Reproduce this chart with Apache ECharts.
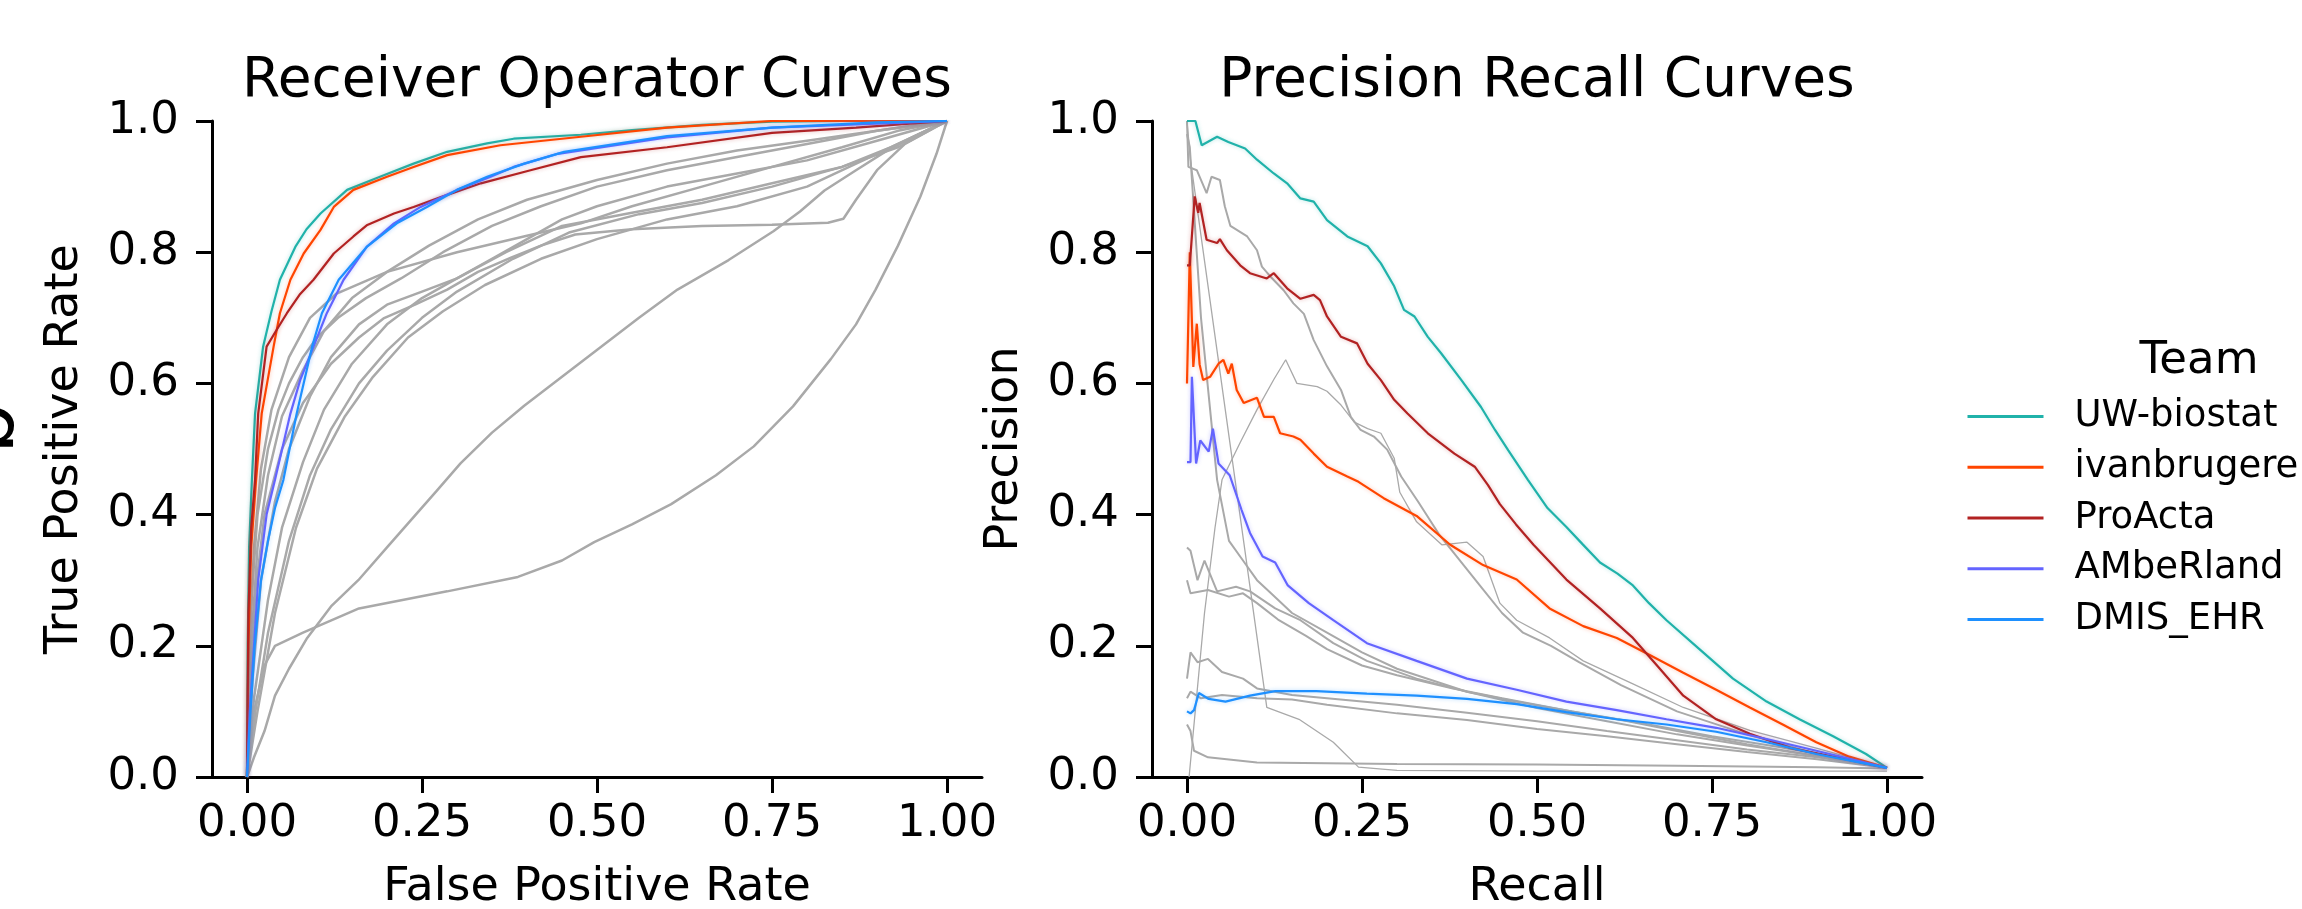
<!DOCTYPE html>
<html>
<head>
<meta charset="utf-8">
<script src="https://cdn.jsdelivr.net/npm/echarts@6/dist/echarts.min.js"></script>
<style>
html,body{margin:0;padding:0;background:#fff;}
#chart{width:2302px;height:909px;}
</style>
</head>
<body>
<div id="chart"></div>
<script>
// ---------------- DATA ----------------
const teams = ['UW-biostat', 'ivanbrugere', 'ProActa', 'AMbeRland', 'DMIS_EHR'];
const teamColors = ['#20b2aa', '#ff4500', '#b22222', '#6464ff', '#1e90ff'];
const xTicks = [0, 0.25, 0.5, 0.75, 1];
const yTicks = [0, 0.2, 0.4, 0.6, 0.8, 1.0];

// ROC curves [FPR, TPR]
const rocUW = [[0,0],[0.001,0.2],[0.003,0.35],[0.007,0.453],[0.0115,0.554],[0.023,0.656],[0.035,0.71],[0.047,0.758],[0.069,0.808],[0.085,0.835],[0.105,0.859],[0.143,0.895],[0.19,0.915],[0.238,0.935],[0.286,0.953],[0.343,0.966],[0.381,0.973],[0.477,0.979],[0.55,0.986],[0.65,0.994],[0.75,0.999],[0.85,1],[1,1]];
const rocIvan = [[0,0],[0.002,0.2],[0.006,0.35],[0.013,0.453],[0.021,0.554],[0.038,0.656],[0.047,0.707],[0.062,0.758],[0.081,0.798],[0.105,0.834],[0.124,0.869],[0.152,0.895],[0.2,0.915],[0.238,0.93],[0.286,0.948],[0.362,0.963],[0.477,0.976],[0.6,0.99],[0.75,1],[1,1]];
const rocProActa = [[0,0],[0.002,0.25],[0.006,0.38],[0.0115,0.453],[0.016,0.554],[0.028,0.656],[0.042,0.681],[0.057,0.707],[0.075,0.735],[0.095,0.758],[0.124,0.798],[0.152,0.824],[0.171,0.841],[0.21,0.859],[0.238,0.869],[0.277,0.884],[0.334,0.905],[0.405,0.925],[0.477,0.945],[0.6,0.96],[0.75,0.982],[0.87,0.99],[1,1]];
const rocAMbeRland = [[0,0],[0.004,0.1],[0.01,0.2],[0.016,0.3],[0.028,0.4],[0.04,0.453],[0.062,0.554],[0.076,0.605],[0.095,0.656],[0.114,0.707],[0.138,0.758],[0.171,0.808],[0.21,0.844],[0.248,0.869],[0.3,0.895],[0.348,0.915],[0.381,0.93],[0.444,0.95],[0.6,0.975],[0.75,0.99],[1,1]];
const rocDMIS = [[0,0],[0.005,0.1],[0.011,0.2],[0.02,0.3],[0.03,0.36],[0.04,0.41],[0.052,0.453],[0.071,0.554],[0.093,0.656],[0.107,0.707],[0.131,0.758],[0.171,0.808],[0.214,0.844],[0.257,0.869],[0.3,0.895],[0.343,0.915],[0.396,0.935],[0.453,0.953],[0.6,0.977],[0.75,0.99],[0.9,0.998],[1,1]];

const rocGray1 = [[0,0],[0.01,0.1],[0.025,0.17],[0.04,0.2],[0.08,0.22],[0.16,0.257],[0.286,0.283],[0.387,0.305],[0.45,0.33],[0.496,0.358],[0.55,0.385],[0.606,0.416],[0.67,0.46],[0.724,0.504],[0.78,0.565],[0.834,0.637],[0.87,0.69],[0.898,0.743],[0.93,0.81],[0.962,0.885],[0.985,0.95],[1,1]];
const rocGray2 = [[0,0],[0.01,0.03],[0.025,0.07],[0.04,0.124],[0.06,0.165],[0.086,0.212],[0.12,0.26],[0.159,0.3],[0.2,0.35],[0.232,0.389],[0.27,0.435],[0.305,0.478],[0.35,0.525],[0.396,0.566],[0.45,0.61],[0.505,0.655],[0.56,0.7],[0.615,0.743],[0.688,0.788],[0.752,0.832],[0.79,0.862],[0.825,0.894],[0.87,0.925],[0.916,0.956],[0.96,0.98],[1,1]];
const rocGray3 = [[0,0],[0.005,0.15],[0.012,0.28],[0.025,0.4],[0.05,0.5],[0.08,0.57],[0.12,0.63],[0.16,0.67],[0.195,0.699],[0.24,0.72],[0.286,0.743],[0.33,0.77],[0.378,0.792],[0.42,0.81],[0.469,0.827],[0.55,0.835],[0.65,0.84],[0.75,0.842],[0.83,0.845],[0.852,0.851],[0.87,0.88],[0.9,0.925],[0.94,0.965],[1,1]];
const rocGray4 = [[0,0],[0.004,0.2],[0.01,0.35],[0.02,0.47],[0.035,0.56],[0.06,0.64],[0.09,0.7],[0.128,0.737],[0.2,0.77],[0.3,0.8],[0.4,0.825],[0.477,0.844],[0.55,0.87],[0.65,0.9],[0.75,0.93],[0.85,0.96],[0.93,0.985],[1,1]];
const rocGray5 = [[0,0],[0.005,0.25],[0.015,0.4],[0.03,0.5],[0.045,0.56],[0.06,0.6],[0.08,0.64],[0.1,0.67],[0.13,0.7],[0.17,0.73],[0.22,0.76],[0.28,0.8],[0.35,0.84],[0.42,0.87],[0.5,0.9],[0.6,0.925],[0.7,0.945],[0.8,0.965],[0.9,0.985],[1,1]];
const rocGray6 = [[0,0],[0.008,0.15],[0.02,0.3],[0.04,0.42],[0.06,0.5],[0.09,0.58],[0.12,0.64],[0.16,0.69],[0.2,0.72],[0.25,0.74],[0.3,0.76],[0.35,0.79],[0.4,0.82],[0.45,0.85],[0.5,0.87],[0.6,0.9],[0.7,0.92],[0.8,0.94],[0.9,0.97],[1,1]];
const rocGray7 = [[0,0],[0.01,0.12],[0.03,0.27],[0.05,0.38],[0.08,0.48],[0.11,0.56],[0.15,0.63],[0.2,0.69],[0.25,0.73],[0.3,0.76],[0.37,0.8],[0.45,0.84],[0.55,0.86],[0.65,0.88],[0.75,0.905],[0.85,0.93],[0.93,0.96],[1,1]];
const rocGray8 = [[0,0],[0.012,0.1],[0.03,0.22],[0.06,0.36],[0.09,0.46],[0.12,0.53],[0.16,0.6],[0.2,0.65],[0.25,0.7],[0.3,0.74],[0.38,0.79],[0.46,0.83],[0.56,0.858],[0.65,0.875],[0.75,0.9],[0.85,0.93],[0.92,0.96],[1,1]];
const rocGray9 = [[0,0],[0.015,0.1],[0.04,0.25],[0.07,0.38],[0.1,0.47],[0.14,0.55],[0.18,0.61],[0.23,0.67],[0.28,0.71],[0.34,0.75],[0.42,0.79],[0.5,0.82],[0.6,0.85],[0.7,0.87],[0.8,0.9],[0.9,0.95],[1,1]];
const rocGray10 = [[0,0],[0.006,0.2],[0.015,0.35],[0.03,0.46],[0.05,0.55],[0.08,0.62],[0.11,0.68],[0.15,0.73],[0.2,0.77],[0.26,0.81],[0.33,0.85],[0.4,0.88],[0.5,0.91],[0.6,0.935],[0.7,0.955],[0.8,0.97],[0.9,0.985],[1,1]];

// Precision-recall curves [Recall, Precision]
const prUW = [[0,1],[0.012,1],[0.021,0.963],[0.043,0.976],[0.059,0.968],[0.083,0.958],[0.1,0.941],[0.124,0.92],[0.143,0.905],[0.162,0.882],[0.181,0.877],[0.2,0.849],[0.229,0.824],[0.258,0.809],[0.277,0.783],[0.296,0.748],[0.31,0.712],[0.325,0.702],[0.344,0.671],[0.363,0.646],[0.392,0.605],[0.42,0.564],[0.44,0.529],[0.459,0.498],[0.487,0.453],[0.515,0.41],[0.542,0.381],[0.565,0.355],[0.59,0.327],[0.615,0.31],[0.637,0.292],[0.66,0.265],[0.685,0.239],[0.732,0.195],[0.78,0.15],[0.828,0.115],[0.875,0.088],[0.923,0.062],[0.97,0.035],[1,0.014]];
const prIvan = [[0,0.6],[0.004,0.8],[0.009,0.625],[0.014,0.691],[0.018,0.629],[0.023,0.605],[0.033,0.61],[0.045,0.63],[0.052,0.636],[0.059,0.615],[0.064,0.63],[0.071,0.59],[0.081,0.57],[0.1,0.578],[0.11,0.549],[0.124,0.549],[0.133,0.524],[0.152,0.519],[0.162,0.514],[0.181,0.493],[0.2,0.473],[0.229,0.458],[0.245,0.45],[0.281,0.425],[0.328,0.398],[0.376,0.354],[0.423,0.323],[0.471,0.301],[0.518,0.257],[0.566,0.23],[0.614,0.212],[0.661,0.186],[0.709,0.159],[0.756,0.133],[0.804,0.106],[0.851,0.08],[0.899,0.053],[0.946,0.031],[1,0.014]];
const prProActa = [[0,0.78],[0.004,0.78],[0.011,0.885],[0.016,0.86],[0.018,0.875],[0.028,0.819],[0.043,0.814],[0.047,0.82],[0.057,0.803],[0.076,0.78],[0.09,0.768],[0.114,0.76],[0.124,0.768],[0.143,0.745],[0.162,0.729],[0.181,0.735],[0.19,0.727],[0.2,0.702],[0.22,0.671],[0.243,0.661],[0.258,0.63],[0.277,0.605],[0.296,0.575],[0.315,0.554],[0.344,0.524],[0.382,0.493],[0.411,0.473],[0.43,0.445],[0.447,0.416],[0.47,0.385],[0.495,0.354],[0.542,0.301],[0.59,0.257],[0.637,0.212],[0.673,0.168],[0.709,0.124],[0.756,0.088],[0.804,0.066],[0.863,0.044],[0.923,0.031],[1,0.014]];
const prAMbeRland = [[0,0.48],[0.005,0.48],[0.007,0.61],[0.013,0.478],[0.019,0.513],[0.031,0.496],[0.037,0.531],[0.045,0.478],[0.061,0.46],[0.078,0.407],[0.09,0.372],[0.108,0.336],[0.126,0.327],[0.144,0.292],[0.174,0.265],[0.209,0.239],[0.257,0.204],[0.328,0.177],[0.4,0.15],[0.471,0.133],[0.542,0.115],[0.614,0.102],[0.685,0.088],[0.756,0.075],[0.828,0.058],[0.899,0.04],[1,0.014]];
const prDMIS = [[0,0.1],[0.005,0.097],[0.01,0.102],[0.017,0.128],[0.031,0.119],[0.055,0.115],[0.09,0.124],[0.126,0.131],[0.185,0.131],[0.257,0.127],[0.328,0.124],[0.4,0.119],[0.471,0.111],[0.542,0.099],[0.614,0.088],[0.685,0.08],[0.756,0.069],[0.828,0.053],[0.899,0.035],[1,0.014]];

const prGray1 = [[0,1],[0.002,0.93],[0.014,0.925],[0.028,0.89],[0.035,0.915],[0.047,0.91],[0.054,0.87],[0.062,0.84],[0.086,0.824],[0.1,0.803],[0.107,0.778],[0.119,0.763],[0.138,0.742],[0.152,0.722],[0.167,0.706],[0.181,0.666],[0.2,0.626],[0.22,0.59],[0.234,0.549],[0.248,0.529],[0.267,0.519],[0.286,0.499],[0.306,0.458],[0.33,0.42],[0.36,0.37],[0.39,0.33],[0.42,0.29],[0.45,0.25],[0.48,0.22],[0.52,0.2],[0.56,0.175],[0.62,0.14],[0.7,0.1],[0.8,0.065],[0.9,0.035],[1,0.014]];
const prGray2 = [[0.003,0],[0.01,0.08],[0.025,0.25],[0.04,0.38],[0.05,0.453],[0.076,0.51],[0.1,0.56],[0.124,0.606],[0.141,0.636],[0.157,0.6],[0.186,0.595],[0.2,0.588],[0.22,0.567],[0.239,0.541],[0.258,0.531],[0.277,0.524],[0.296,0.486],[0.304,0.434],[0.328,0.389],[0.364,0.354],[0.4,0.358],[0.423,0.336],[0.447,0.265],[0.471,0.239],[0.518,0.212],[0.566,0.177],[0.637,0.142],[0.709,0.106],[0.804,0.071],[0.899,0.044],[1,0.014]];
const prGray3 = [[0,1],[0.005,0.94],[0.114,0.106],[0.16,0.088],[0.209,0.053],[0.245,0.015],[0.3,0.01],[0.5,0.009],[0.75,0.009],[1,0.009]];
const prGray4 = [[0,0.35],[0.005,0.345],[0.015,0.3],[0.025,0.33],[0.043,0.283],[0.07,0.29],[0.09,0.283],[0.126,0.257],[0.162,0.239],[0.209,0.204],[0.257,0.177],[0.328,0.15],[0.4,0.13],[0.47,0.115],[0.55,0.1],[0.63,0.085],[0.7,0.07],[0.8,0.05],[0.9,0.032],[1,0.014]];
const prGray5 = [[0,0.3],[0.005,0.28],[0.03,0.285],[0.06,0.275],[0.08,0.28],[0.1,0.265],[0.13,0.24],[0.17,0.215],[0.2,0.195],[0.25,0.17],[0.3,0.155],[0.38,0.135],[0.45,0.12],[0.55,0.1],[0.65,0.082],[0.75,0.062],[0.85,0.045],[0.95,0.025],[1,0.014]];
const prGray6 = [[0,0.15],[0.005,0.19],[0.015,0.175],[0.03,0.18],[0.05,0.16],[0.08,0.15],[0.1,0.135],[0.15,0.125],[0.2,0.12],[0.3,0.11],[0.4,0.098],[0.5,0.085],[0.6,0.07],[0.7,0.056],[0.8,0.042],[0.9,0.03],[1,0.014]];
const prGray7 = [[0,0.12],[0.005,0.13],[0.02,0.12],[0.05,0.125],[0.1,0.12],[0.15,0.118],[0.2,0.11],[0.3,0.097],[0.4,0.087],[0.5,0.073],[0.6,0.062],[0.7,0.05],[0.8,0.038],[0.9,0.027],[1,0.014]];
const prGray8 = [[0,0.08],[0.005,0.07],[0.01,0.04],[0.03,0.03],[0.1,0.022],[0.2,0.021],[0.3,0.02],[0.5,0.019],[0.7,0.017],[0.9,0.015],[1,0.013]];
const prGray9 = [[0,0.98],[0.004,0.96],[0.02,0.7],[0.043,0.453],[0.06,0.36],[0.08,0.33],[0.1,0.3],[0.12,0.28],[0.15,0.25],[0.2,0.22],[0.25,0.19],[0.3,0.165],[0.4,0.13],[0.5,0.105],[0.6,0.085],[0.7,0.065],[0.8,0.048],[0.9,0.032],[1,0.014]];

// ---------------- CHART ----------------
const F = 'DejaVu Sans';
const rocTeam = [rocUW, rocIvan, rocProActa, rocAMbeRland, rocDMIS];
const prTeam = [prUW, prIvan, prProActa, prAMbeRland, prDMIS];
const rocGray = [rocGray1, rocGray2, rocGray3, rocGray4, rocGray5, rocGray6, rocGray7, rocGray8, rocGray9, rocGray10];
const prGray = [prGray1, prGray2, prGray3, prGray4, prGray5, prGray6, prGray7, prGray8, prGray9];
const prGrayWidth = [2, 1.3, 1.3, 2, 2, 2, 2, 2, 2];

function lineSeries(name, data, gi, color, width, z, halo) {
  const ls = {color: color, width: width};
  if (halo) { ls.shadowColor = color + '55'; ls.shadowBlur = 4; }
  return {
    type: 'line', name: name, data: data, xAxisIndex: gi, yAxisIndex: gi,
    symbol: 'none', showSymbol: false, silent: true, z: z,
    lineStyle: ls, itemStyle: {color: color}, emphasis: {disabled: true}
  };
}

const series = [];
rocGray.forEach((d, i) => series.push(lineSeries('other', d, 0, '#a9a9a9', 2.5, 2)));
prGray.forEach((d, i) => series.push(lineSeries('other', d, 1, '#a9a9a9', prGrayWidth[i], 2)));
teams.forEach((t, i) => {
  series.push(lineSeries(t, rocTeam[i], 0, teamColors[i], 2.2, 3, true));
  series.push(lineSeries(t, prTeam[i], 1, teamColors[i], 2.2, 3, true));
});

function xAx(gi, name) {
  return {
    type: 'value', gridIndex: gi, min: -0.05, max: 1.05,
    name: name, nameLocation: 'middle', nameGap: 88,
    nameTextStyle: {fontSize: 46, fontFamily: F, color: '#000'},
    axisLine: {show: true, onZero: false, lineStyle: {color: '#000', width: 3}},
    axisTick: {show: true, length: 16, customValues: xTicks, lineStyle: {color: '#000', width: 3}},
    axisLabel: {customValues: xTicks, formatter: v => Number(v).toFixed(2), fontSize: 45, fontFamily: F, color: '#000', margin: 25},
    splitLine: {show: false}
  };
}
function yAx(gi, name) {
  return {
    type: 'value', gridIndex: gi, min: 0, max: 1, interval: 0.2,
    name: name, nameLocation: 'middle', nameGap: 124,
    nameTextStyle: {fontSize: 46, fontFamily: F, color: '#000'},
    axisLine: {show: true, onZero: false, lineStyle: {color: '#000', width: 3}},
    axisTick: {show: true, length: 16, lineStyle: {color: '#000', width: 3}},
    axisLabel: {formatter: v => Number(v).toFixed(1), fontSize: 45, fontFamily: F, color: '#000', margin: 33},
    splitLine: {show: false}
  };
}

const chart = echarts.init(document.getElementById('chart'), null, {renderer: 'canvas'});
chart.setOption({
  animation: false,
  backgroundColor: '#fff',
  grid: [
    {left: 212, top: 121, width: 770, height: 656, containLabel: false, outerBoundsMode: 'none'},
    {left: 1152, top: 121, width: 770, height: 656, containLabel: false, outerBoundsMode: 'none'}
  ],
  xAxis: [xAx(0, 'False Positive Rate'), xAx(1, 'Recall')],
  yAxis: [yAx(0, 'True Positive Rate'), yAx(1, 'Precision')],
  legend: {
    data: teams, orient: 'vertical', left: 1966, top: 398, padding: 0,
    itemWidth: 76, itemHeight: 44, itemGap: 13.75, selectedMode: false,
    itemStyle: {opacity: 0, borderWidth: 0},
    lineStyle: {width: 3},
    textStyle: {fontSize: 37, fontFamily: F, color: '#000', padding: [0, 0, 0, 26]}
  },
  graphic: [
    {type: 'text', x: 597, y: 82, silent: true,
     style: {text: 'Receiver Operator Curves', fontSize: 55, fontFamily: F, fill: '#000', textAlign: 'center', textVerticalAlign: 'middle', align: 'center', verticalAlign: 'middle'}},
    {type: 'text', x: 1537, y: 82, silent: true,
     style: {text: 'Precision Recall Curves', fontSize: 55, fontFamily: F, fill: '#000', textAlign: 'center', textVerticalAlign: 'middle', align: 'center', verticalAlign: 'middle'}},
    {type: 'text', x: 2199, y: 361, silent: true,
     style: {text: 'Team', fontSize: 45, fontFamily: F, fill: '#000', textAlign: 'center', textVerticalAlign: 'middle', align: 'center', verticalAlign: 'middle'}},
    {type: 'text', x: 32, y: 454, rotation: Math.PI / 2, silent: true,
     style: {text: 'b', fontSize: 80, fontFamily: F, fill: '#000', textAlign: 'left', textVerticalAlign: 'bottom', align: 'left', verticalAlign: 'bottom'}}
  ],
  series: series
});
</script>
</body>
</html>
